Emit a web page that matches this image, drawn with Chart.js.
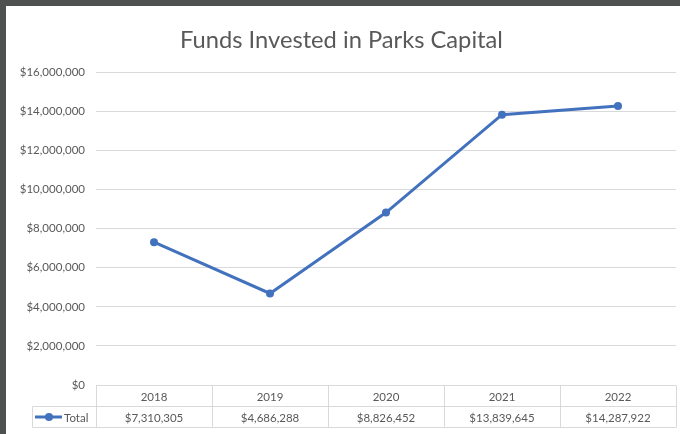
<!DOCTYPE html>
<html>
<head>
<meta charset="utf-8">
<script src="https://cdn.jsdelivr.net/npm/chart.js@4/dist/chart.umd.min.js"></script>
<style>
  body { margin: 0; background: #4f5050; }
  #wrap { position: absolute; left: 6px; top: 6px; width: 674px; height: 428px; background: #fff; }
</style>
</head>
<body>
<div id="wrap"><canvas id="funds-chart" width="674" height="428"></canvas></div>
<script>
// Capital funding by year
const years = ['2018', '2019', '2020', '2021', '2022'];
const totals = [7310305, 4686288, 8826452, 13839645, 14287922];
const seriesName = 'Total';

const lineColor = '#4271bd';
const textColor = '#595959';
const gridColor = '#d9d9d9';

function money(v) {
    return '$' + Math.round(v).toLocaleString('en-US');
}

// Excel-style data table under the plot
const dataTable = {
    id: 'dataTable',
    afterDraw(chart) {
        const ctx = chart.ctx;
        const area = chart.chartArea;
        const x = chart.scales.x;
        const rowH = 21;
        const colW = (area.right - area.left) / years.length;
        const top = Math.round(area.bottom) + 0.5;
        const legendLeft = 26.5;

        ctx.save();
        ctx.strokeStyle = gridColor;
        ctx.lineWidth = 1;
        ctx.beginPath();
        ctx.moveTo(area.left, top);
        ctx.lineTo(area.right, top);
        ctx.moveTo(legendLeft, top + rowH);
        ctx.lineTo(area.right, top + rowH);
        ctx.moveTo(legendLeft, top + rowH * 2);
        ctx.lineTo(area.right, top + rowH * 2);
        ctx.moveTo(legendLeft, top + rowH);
        ctx.lineTo(legendLeft, top + rowH * 2);
        for (let i = 0; i <= years.length; i++) {
            const cx = Math.round(area.left + i * colW) + 0.5;
            ctx.moveTo(cx, top);
            ctx.lineTo(cx, top + rowH * 2);
        }
        ctx.stroke();

        ctx.fillStyle = textColor;
        ctx.font = '11.5px Lato';
        ctx.textAlign = 'center';
        ctx.textBaseline = 'middle';
        years.forEach((yr, i) => {
            const cx = x.getPixelForValue(i);
            ctx.fillText(yr, cx, top + rowH / 2 + 1);
            ctx.fillText(money(totals[i]), cx, top + rowH * 1.5 + 1);
        });

        // legend key
        const ky = top + rowH * 1.5;
        ctx.strokeStyle = lineColor;
        ctx.lineWidth = 3;
        ctx.beginPath();
        ctx.moveTo(29, ky);
        ctx.lineTo(56, ky);
        ctx.stroke();
        ctx.fillStyle = lineColor;
        ctx.beginPath();
        ctx.arc(43, ky, 4, 0, Math.PI * 2);
        ctx.fill();
        ctx.fillStyle = textColor;
        ctx.textAlign = 'left';
        ctx.fillText(seriesName, 58, ky + 1);
        ctx.restore();
    }
};

function createFundsChart() {
    const ctx = document.getElementById('funds-chart').getContext('2d');
    new Chart(ctx, {
        type: 'line',
        data: {
            labels: years,
            datasets: [{
                label: seriesName,
                data: totals,
                borderColor: lineColor,
                backgroundColor: lineColor,
                borderWidth: 3,
                pointRadius: 4,
                pointBorderWidth: 0,
                tension: 0
            }]
        },
        options: {
            responsive: false,
            animation: false,
            layout: { padding: { left: 0, right: 3, top: 0, bottom: 41 } },
            plugins: {
                legend: { display: false },
                tooltip: { enabled: false },
                title: {
                    display: true,
                    text: 'Funds Invested in Parks Capital',
                    color: textColor,
                    font: { family: 'Lato', size: 23.7, weight: 'normal' },
                    padding: { top: 20, bottom: 18 }
                }
            },
            scales: {
                x: {
                    offset: true,
                    grid: { display: false },
                    border: { display: false },
                    ticks: { display: false }
                },
                y: {
                    min: 0,
                    max: 16000000,
                    afterFit(scale) { scale.width = 90; },
                    grid: { color: gridColor, drawTicks: false },
                    border: { display: false },
                    ticks: {
                        stepSize: 2000000,
                        padding: 11,
                        color: textColor,
                        font: { family: 'Lato', size: 11.5 },
                        callback: v => money(v)
                    }
                }
            }
        },
        plugins: [dataTable]
    });
}

createFundsChart();
</script>
</body>
</html>
